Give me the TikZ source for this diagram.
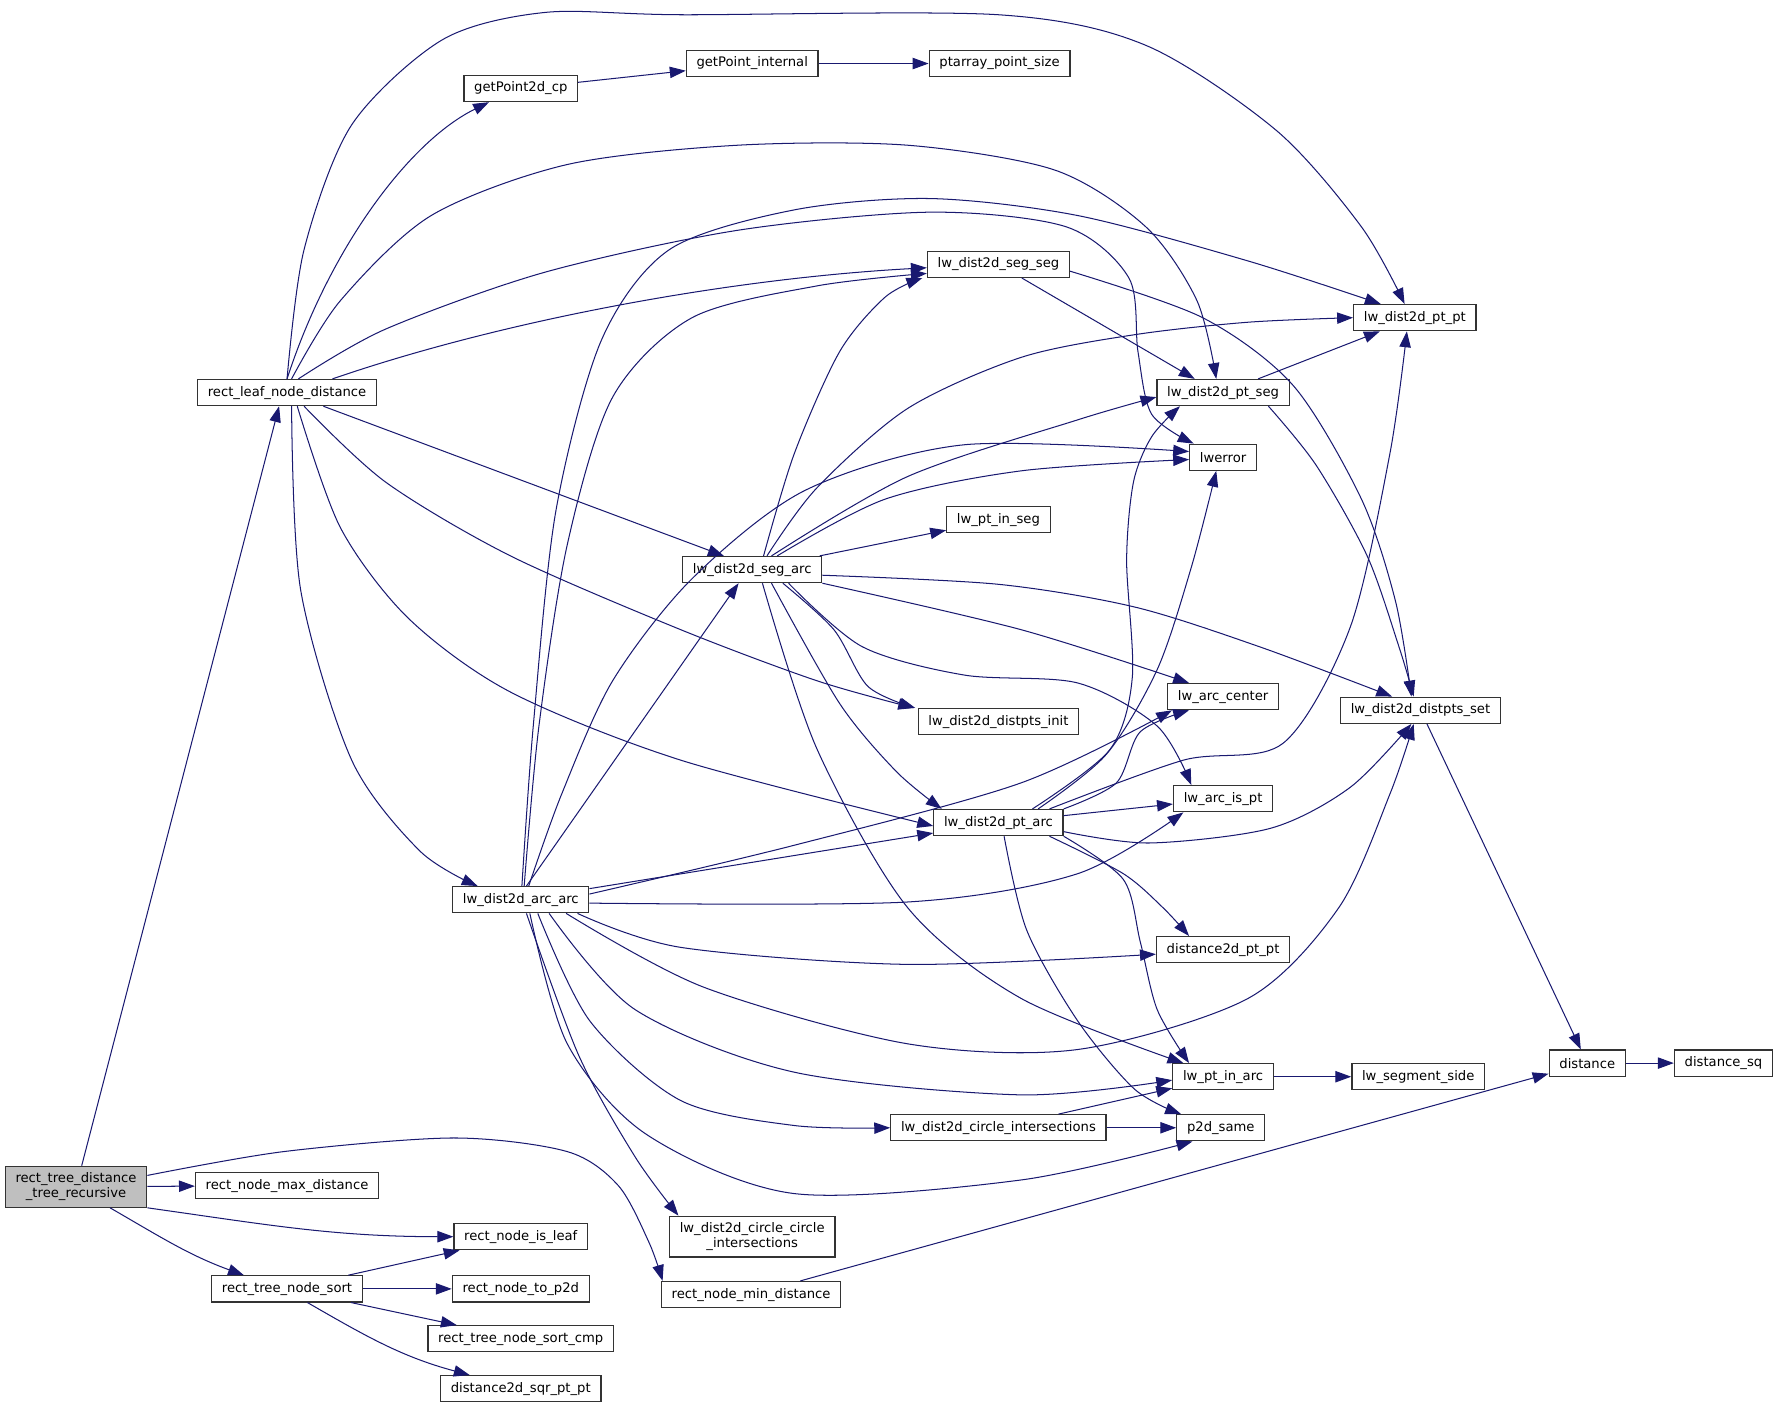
\documentclass[tikz,border=0pt]{standalone}
\usepackage{fontspec}
\setmainfont{DejaVu Sans}
\usetikzlibrary{arrows.meta}
\definecolor{edgeblue}{RGB}{25,25,112}
\definecolor{rootgray}{RGB}{191,191,191}

\begin{document}
\begin{tikzpicture}[x=1pt, y=-1pt,
    box/.style={draw=black!80, line width=1.1pt, fill=white, inner xsep=9pt, inner ysep=0pt,
        minimum height=23pt, font=\fontsize{11.6}{13.5}\selectfont},
    rootbox/.style={box, fill=rootgray, align=center, minimum height=36pt},
    call/.style={edgeblue, line width=0.9pt, -{Triangle[length=14pt,width=10pt]}}]
    \useasboundingbox (0,0) rectangle (1568,1242);

    % Root and its direct callees
    \node[rootbox] (rt) at (67,1046) {rect\_tree\_distance\\\_tree\_recursive};
    \node[box] (maxd) at (253,1045) {rect\_node\_max\_distance};
    \node[box] (isleaf) at (459,1090) {rect\_node\_is\_leaf};
    \node[box] (sort) at (253,1136) {rect\_tree\_node\_sort};
    \node[box] (top2d) at (459,1136) {rect\_node\_to\_p2d};
    \node[box] (sortcmp) at (459,1180) {rect\_tree\_node\_sort\_cmp};
    \node[box] (sqrpt) at (459,1224) {distance2d\_sqr\_pt\_pt};
    \node[box] (mind) at (662,1141) {rect\_node\_min\_distance};
    \node[box] (leaf) at (253,346) {rect\_leaf\_node\_distance};

    % Point access
    \node[box] (gp2d) at (459,78) {getPoint2d\_cp};
    \node[box] (gpint) at (663,56) {getPoint\_internal};
    \node[box] (ptsize) at (881,56) {ptarray\_point\_size};

    % Distance functions
    \node[box] (segseg) at (880,233) {lw\_dist2d\_seg\_seg};
    \node[box] (ptpt) at (1247,280) {lw\_dist2d\_pt\_pt};
    \node[box] (ptseg) at (1078,346) {lw\_dist2d\_pt\_seg};
    \node[box] (lwerr) at (1078,403) {lwerror};
    \node[box] (ptinseg) at (880,458) {lw\_pt\_in\_seg};
    \node[box] (segarc) at (663,502) {lw\_dist2d\_seg\_arc};
    \node[box] (arccen) at (1078,614) {lw\_arc\_center};
    \node[box] (dinit) at (880,636) {lw\_dist2d\_distpts\_init};
    \node[box] (dset) at (1252,626) {lw\_dist2d\_distpts\_set};
    \node[box] (arcispt) at (1078,704) {lw\_arc\_is\_pt};
    \node[box] (ptarc) at (880,725) {lw\_dist2d\_pt\_arc};
    \node[box] (arcarc) at (459,793) {lw\_dist2d\_arc\_arc};
    \node[box] (d2dpt) at (1078,837) {distance2d\_pt\_pt};
    \node[box] (dist) at (1399,937) {distance};
    \node[box] (distsq) at (1519,937) {distance\_sq};
    \node[box] (ptinarc) at (1078,949) {lw\_pt\_in\_arc};
    \node[box] (segside) at (1250,949) {lw\_segment\_side};
    \node[box] (cint) at (880,994) {lw\_dist2d\_circle\_intersections};
    \node[box] (p2d) at (1076,994) {p2d\_same};
    \node[rootbox, fill=white] (ccint) at (663,1090) {lw\_dist2d\_circle\_circle\\\_intersections};

    % Straight calls
    \foreach \a/\b in {rt/maxd, sort/isleaf, sort/top2d, sort/sortcmp, gp2d/gpint, gpint/ptsize,
        ptseg/ptpt, segarc/ptinseg, ptarc/arcispt, arcarc/ptarc, cint/ptinarc, cint/p2d,
        ptinarc/segside, dset/dist, dist/distsq, mind/dist} {
        \draw[call] (\a) -- (\b);
    }

    % Root calls
    \draw[call] ([xshift=5pt]rt.north) -- ([xshift=-7pt]leaf.south);
    \draw[call] (rt.south east) to[out=-8,in=180] (isleaf.west);
    \draw[call] ([xshift=30pt]rt.south) to[out=-30,in=160] ([xshift=-38pt]sort.north);
    \draw[call] plot[smooth] coordinates {([yshift=10pt]rt.east) (250,1015) (400,1003) (500,1015)
        (545,1045) (572,1095) ([xshift=-78pt]mind.north)};
    \draw[call] ([xshift=18pt]sort.south) to[out=-30,in=165] ([xshift=-45pt]sqrpt.north);

    % rect_leaf_node_distance
    \draw[call] (leaf.north) .. controls (290,220) and (360,125) .. ([xshift=-28pt]gp2d.south);
    \draw[call] plot[smooth] coordinates {(leaf.north) (268,220) (310,110) (390,35) (480,11)
        (600,13) (880,13) (1010,40) (1125,115) (1200,200) ([xshift=-9pt]ptpt.north)};
    \draw[call] plot[smooth] coordinates {([xshift=4pt]leaf.north) (300,265) (380,190) (500,145)
        (650,128) (800,128) (930,150) (1010,200) (1055,265) ([xshift=-6pt]ptseg.north)};
    \draw[call] plot[smooth] coordinates {([xshift=10pt]leaf.north) (340,290) (480,240) (650,203)
        (820,187) (940,200) (995,245) (1003,310) (1015,365) ([xshift=4pt]lwerr.north west)};
    \draw[call] ([xshift=40pt]leaf.north) .. controls (450,280) and (650,245) .. ([yshift=-3pt]segseg.west);
    \draw[call] ([xshift=32pt]leaf.south) -- ([xshift=-25pt]segarc.north);
    \draw[call] plot[smooth] coordinates {([xshift=15pt]leaf.south) (340,425) (450,490) (600,555)
        (720,600) ([xshift=-3pt]dinit.north west)};
    \draw[call] plot[smooth] coordinates {([xshift=9pt]leaf.south) (300,465) (360,545) (450,610)
        (600,670) ([yshift=-3pt]ptarc.west)};
    \draw[call] plot[smooth] coordinates {([xshift=4pt]leaf.south) (265,520) (310,670) (370,750)
        ([xshift=-38pt]arcarc.north)};

    % lw_dist2d_seg_seg and lw_dist2d_pt_seg
    \draw[call] (segseg) -- ([xshift=-25pt]ptseg.north);
    \draw[call] plot[smooth] coordinates {([yshift=-6pt]segseg.east) (1060,280) (1140,340)
        (1200,440) (1230,530) ([xshift=-8pt]dset.north)};
    \draw[call] plot[smooth] coordinates {([xshift=40pt]ptseg.south) (1160,410) (1205,490)
        (1233,570) ([xshift=-6pt]dset.north)};

    % lw_dist2d_seg_arc
    \draw[call] plot[smooth] coordinates {([xshift=10pt]segarc.north) (700,400) (740,310)
        (780,262) ([xshift=-4pt]segseg.south west)};
    \draw[call] plot[smooth] coordinates {([xshift=13pt]segarc.north) (720,430) (800,360)
        (900,315) (1000,295) (1100,284) (ptpt.west)};
    \draw[call] plot[smooth] coordinates {([xshift=17pt]segarc.north) (800,420) (950,370)
        ([yshift=-4pt]ptseg.west)};
    \draw[call] plot[smooth] coordinates {([xshift=22pt]segarc.north) (780,440) (900,415)
        ([yshift=-2pt]lwerr.west)};
    \draw[call] plot[smooth] coordinates {([yshift=-5pt]segarc.east) (880,515) (1000,535)
        (1110,570) ([xshift=-25pt]dset.north)};
    \draw[call] plot[smooth] coordinates {(segarc.south east) (900,555) ([xshift=-30pt]arccen.north)};
    \draw[call] plot[smooth] coordinates {([xshift=27pt]segarc.south) (735,555) (765,605)
        ([xshift=-2pt]dinit.north west)};
    \draw[call] plot[smooth] coordinates {([xshift=32pt]segarc.south) (760,570) (850,595)
        (950,602) (1020,640) ([xshift=-28pt]arcispt.north)};
    \draw[call] plot[smooth] coordinates {([xshift=17pt]segarc.south) (740,620) (790,680)
        ([xshift=-50pt]ptarc.north)};
    \draw[call] plot[smooth] coordinates {([xshift=9pt]segarc.south) (720,660) (800,800)
        (900,880) ([xshift=-35pt]ptinarc.north)};

    % lw_dist2d_pt_arc
    \draw[call] plot[smooth] coordinates {([xshift=45pt]ptarc.north) (1043,670) (1131,655)
        (1190,553) (1225,400) ([xshift=-7pt]ptpt.south)};
    \draw[call] plot[smooth] coordinates {([yshift=-8pt]ptarc.east) (1013,743) (1120,730)
        (1190,694) ([xshift=-8pt]dset.south)};
    \draw[call] plot[smooth] coordinates {([xshift=30pt]ptarc.north) (978,661) (998,597)
        (993,494) (999,425) (1015,385) ([xshift=-38pt]ptseg.south)};
    \draw[call] plot[smooth] coordinates {([xshift=35pt]ptarc.north) (975,665) (1020,590)
        (1050,500) ([xshift=-6pt]lwerr.south)};
    \draw[call] plot[smooth] coordinates {(ptarc.north east) (984,690) (1005,645)
        ([xshift=-30pt]arccen.south)};
    \draw[call] plot[smooth] coordinates {([xshift=45pt]ptarc.south) (990,770) (1025,800)
        ([xshift=-30pt]d2dpt.north)};
    \draw[call] plot[smooth] coordinates {(ptarc.south east) (990,775) (1005,830) (1020,890)
        ([xshift=-30pt]ptinarc.north)};
    \draw[call] plot[smooth] coordinates {([xshift=5pt]ptarc.south) (905,820) (950,900)
        (1000,960) ([xshift=-35pt]p2d.north)};

    % lw_dist2d_arc_arc
    \draw[call] plot[smooth] coordinates {([xshift=3pt]arcarc.north) (475,640) (500,480)
        (540,350) (610,280) (720,252) ([yshift=-8pt]segseg.west)};
    \draw[call] plot[smooth] coordinates {([xshift=1pt]arcarc.north) (470,640) (490,450)
        (530,300) (590,220) (700,185) (820,175) (950,190) (1100,230) ([xshift=-30pt]ptpt.north)};
    \draw[call] ([xshift=5pt]arcarc.north) -- ([xshift=-12pt]segarc.south);
    \draw[call] plot[smooth] coordinates {([xshift=7pt]arcarc.north) (495,700) (540,600)
        (610,510) (710,432) (850,392) ([yshift=5pt]lwerr.west)};
    \draw[call] plot[smooth] coordinates {([yshift=5pt]arcarc.east) (700,745) (900,690)
        ([xshift=-45pt]arccen.south)};
    \draw[call] plot[smooth] coordinates {([yshift=-3pt]arcarc.east) (800,795) (950,770)
        ([xshift=-35pt]arcispt.south)};
    \draw[call] plot[smooth] coordinates {([xshift=50pt]arcarc.south) (600,835) (800,850)
        ([yshift=-4pt]d2dpt.west)};
    \draw[call] plot[smooth] coordinates {([xshift=40pt]arcarc.south) (620,870) (800,920)
        (950,925) (1100,880) (1180,800) (1225,700) ([xshift=-6pt]dset.south)};
    \draw[call] plot[smooth] coordinates {([xshift=25pt]arcarc.south) (560,890) (700,945)
        (900,965) ([yshift=-3pt]ptinarc.west)};
    \draw[call] plot[smooth] coordinates {([xshift=15pt]arcarc.south) (520,900) (600,970)
        (700,992) (cint.west)};
    \draw[call] plot[smooth] coordinates {([xshift=8pt]arcarc.south) (500,920) (570,1000)
        (700,1052) (900,1040) ([xshift=-25pt]p2d.south)};
    \draw[call] plot[smooth] coordinates {([xshift=5pt]arcarc.south) (510,930) (560,1020)
        ([xshift=-65pt]ccint.north)};
\end{tikzpicture}
\end{document}
